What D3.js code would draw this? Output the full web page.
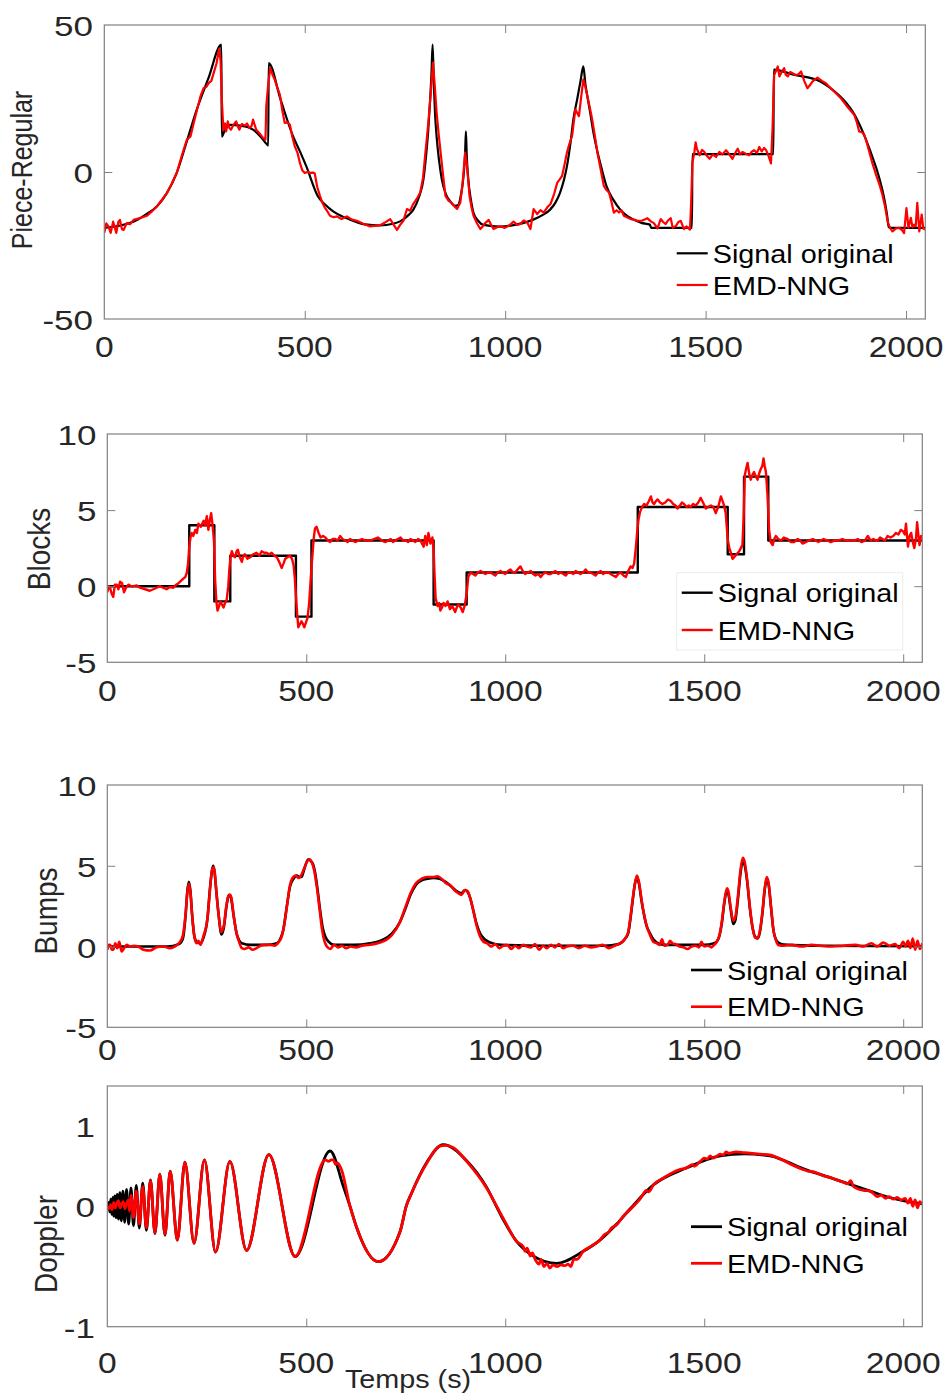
<!DOCTYPE html>
<html>
<head>
<meta charset="utf-8">
<script src="https://cdn.jsdelivr.net/npm/d3@7"></script>
<style>
  body { margin: 0; background: #fff; }
  svg { display: block; }
  text { font-family: "Liberation Sans", Arial, Helvetica, sans-serif; }
</style>
</head>
<body>
<svg id="chart" width="946" height="1396"></svg>
<script>
// ---------- data: sample index vs value ----------
const xTicks = [0, 500, 1000, 1500, 2000];
const xTickLabels = ["0", "500", "1000", "1500", "2000"];

const pieceTicks = [-50, 0, 50];
const pieceTickLabels = ["-50", "0", "50"];
const blocksTicks = [-5, 0, 5, 10];
const blocksTickLabels = ["-5", "0", "5", "10"];
const bumpsTicks = [-5, 0, 5, 10];
const bumpsTickLabels = ["-5", "0", "5", "10"];
const dopplerTicks = [-1.5, 0, 1];
const dopplerTickLabels = ["-1", "0", "1"];

const seriesNames = ["Signal original", "EMD-NNG"];

const pieceRegularOriginal = [[0,-19],[40,-18.2],[80,-16.4],[105,-14.3],[131,-11.7],[156,-7.2],[181,-0.2],[206,10.5],[230,21],[260,32],[292,43.3],[293,12],[300,14],[313,16],[340,15.8],[371,14.4],[390,12],[405,9.5],[409,9.0],[410,37],[440,24.5],[471,12.1],[488,7],[504,1.9],[533,-8.3],[550,-11],[571,-13.4],[613,-16.2],[650,-17.8],[688,-18.2],[720,-17.6],[738,-16.8],[760,-14.5],[771,-12.8],[785,-8.5],[796,-2.6],[803,6],[808,14],[813,25],[816,33],[819,43.3],[822,30],[825,20],[829,12],[835,4],[842,-2.6],[852,-7.5],[863,-10],[875,-11.5],[883,-11.2],[890,-7.5],[896,-1.5],[900,6],[902,13.8],[904,6],[908,-2.6],[914,-9],[921,-13.9],[932,-16.5],[946,-18],[987,-18.6],[1030,-17.8],[1070,-16.2],[1095,-14.5],[1112,-12.8],[1125,-10.5],[1137,-7],[1147,-2.5],[1154,1.9],[1163,10],[1170,17.8],[1180,25],[1188,31],[1195,35.9],[1200,30],[1206,25],[1212,20.2],[1220,13.5],[1229,7.6],[1240,1.5],[1253,-4.9],[1270,-9.5],[1287,-12.8],[1305,-15],[1320,-16.2],[1340,-17.3],[1361,-17.9],[1364,-19],[1466,-19],[1467,6.1],[1669,6.1],[1670,34.8],[1719,33.1],[1786,30.8],[1820,27.6],[1852,23.3],[1871,19.6],[1885,15.8],[1900,11],[1919,4],[1932,-1.5],[1944,-8],[1952,-14],[1957,-18.8],[1962,-19],[2048,-19]];

const pieceRegularEmd = [[0,-20.7],[5,-17.5],[10,-18.4],[16,-20.7],[22,-16.9],[30,-20.7],[35,-17],[39,-16.3],[44,-19.5],[48,-19.7],[56,-17.4],[64,-17.8],[73,-16.3],[89,-15.7],[106,-14.9],[118,-13.5],[131,-11.7],[143,-9.6],[156,-7.2],[168,-4],[181,-0.2],[193,5.4],[206,11],[215,12.1],[223,16.7],[232,21.5],[240,25.8],[248,28.6],[254,28.9],[261,30.3],[267,31],[273,33.7],[280,37],[286,41.8],[290,38],[293,25],[297,14.4],[301,16.5],[304,13.8],[308,17.2],[312,15],[316,14.4],[322,16],[329,17.2],[333,15.5],[337,14.4],[343,16.3],[350,15.8],[356,16.5],[362,15],[367,15.5],[371,17.8],[375,16],[379,14.4],[388,13],[396,11.6],[402,11],[404,22.3],[409,30],[414,35.3],[420,33],[425,31.4],[432,28.5],[438,26.3],[444,21],[450,16.7],[457,16.9],[463,16.1],[469,12],[475,8.8],[482,6.5],[488,3.1],[494,0.5],[500,-0.3],[509,0],[513,-0.3],[521,-0.2],[525,-0.5],[531,-5],[538,-8.1],[544,-10.5],[550,-12.1],[557,-13.5],[563,-14.9],[572,-15.4],[580,-15.1],[592,-16],[605,-15.1],[618,-16.2],[630,-16.6],[646,-17.6],[663,-18.5],[675,-18.3],[688,-18.1],[700,-17.2],[713,-16],[722,-18],[730,-19.7],[738,-18],[746,-16.6],[755,-12.6],[763,-13.2],[770,-11],[776,-9.8],[782,-8.5],[788,-7],[795,-2],[801,6.6],[805,12],[809,17.9],[815,28],[820,37.2],[824,30],[829,20.2],[834,13],[839,6.6],[845,-1],[851,-8.1],[859,-9.8],[865,-10.3],[872,-11.5],[880,-12.6],[888,-10.4],[893,-5],[896,-0.3],[900,6.6],[904,3.1],[908,-3],[911,-8.1],[916,-12],[921,-14.9],[930,-17.5],[938,-19.4],[944,-18.5],[950,-17.4],[959,-16.3],[965,-18],[971,-19.4],[980,-18.8],[988,-18.5],[999,-19],[1009,-18.3],[1021,-16.9],[1030,-18],[1038,-17.7],[1046,-16.5],[1055,-17.2],[1063,-19.4],[1071,-12.6],[1080,-14.3],[1088,-13],[1096,-13.8],[1105,-12],[1113,-10.9],[1122,-7.5],[1130,-3.6],[1136,-2.5],[1142,-1.3],[1148,2.5],[1154,6.6],[1160,9.5],[1167,12.3],[1175,21.3],[1180,20],[1184,19],[1190,26],[1195,31.5],[1200,29],[1205,25.8],[1211,22],[1217,17.9],[1224,12],[1230,6.6],[1238,1],[1246,-4.7],[1252,-6],[1259,-7],[1265,-10],[1271,-13.8],[1278,-13],[1284,-13.8],[1290,-13],[1296,-14.9],[1305,-15.5],[1313,-16],[1322,-16.2],[1330,-16.6],[1342,-16.5],[1355,-15.7],[1363,-16.8],[1371,-17.4],[1380,-19.2],[1388,-16],[1394,-17],[1400,-17.7],[1406,-16.5],[1413,-15.7],[1418,-19],[1426,-18.3],[1432,-17],[1438,-16.6],[1446,-19.4],[1452,-18.5],[1461,-19.6],[1464,-10],[1467,3],[1472,6.8],[1475,10.1],[1478,8],[1485,5.7],[1491,7.5],[1497,6.8],[1503,5.5],[1510,4.5],[1518,6],[1526,5.1],[1534,6.8],[1542,6],[1551,7.4],[1559,6],[1567,4.5],[1574,6.5],[1580,7.9],[1586,6],[1592,6.8],[1600,6.2],[1609,5.7],[1615,6.9],[1621,7.4],[1628,6.5],[1634,8.5],[1640,7],[1646,8.2],[1651,7.4],[1657,5.5],[1663,2.9],[1667,15],[1671,33],[1676,34.5],[1680,35.9],[1684,32.5],[1688,33.6],[1692,34.5],[1696,35.3],[1700,33],[1705,32.5],[1711,34],[1717,33.6],[1724,33],[1731,33.2],[1738,34.2],[1746,31],[1754,28.5],[1760,29.5],[1767,30.8],[1773,31.5],[1779,32.1],[1790,31],[1800,30.2],[1812,28.5],[1825,26.8],[1838,25],[1850,22.8],[1860,21.2],[1871,19.4],[1877,17],[1883,13.8],[1890,13.5],[1896,12.6],[1902,10],[1908,7],[1916,3],[1925,-0.9],[1933,-4],[1941,-7.7],[1948,-12],[1954,-16.8],[1960,-19],[1966,-20.2],[1975,-19.2],[1983,-19],[1990,-19.8],[1995,-20.8],[2001,-12.3],[2006,-19],[2012,-15.6],[2016,-18.8],[2020,-17.9],[2024,-18.5],[2028,-10.5],[2033,-20.2],[2039,-14.5],[2043,-19.2],[2048,-19.6]];

const blocksOriginal = [[0,0],[206,4],[269,-1],[309,2],[474,-2],[513,3],[820,-1.2],[903,0.9],[1333,5.2],[1559,2.1],[1600,7.2],[1661,3.0],[2048,3.0]];

const blocksEmd = [[0,-0.4],[4,0.0],[7,-0.1],[11,-0.5],[15,-0.7],[19,0.1],[24,0.1],[28,-0.2],[32,0.3],[37,0.2],[42,-0.4],[47,-0.1],[53,0.1],[60,0.0],[66,0.0],[74,0.05],[82,-0.1],[95,-0.2],[107,-0.3],[120,-0.15],[132,0.0],[140,-0.1],[149,-0.2],[157,-0.05],[166,-0.1],[173,0.1],[179,0.2],[185,0.35],[191,0.5],[196,0.6],[200,0.9],[203,1.5],[206,2.6],[209,3.2],[212,3.5],[216,3.3],[221,3.7],[225,3.5],[229,4.1],[235,3.9],[242,4.3],[246,4.0],[250,4.6],[254,3.7],[258,4.4],[261,4.8],[265,3.9],[268,3.0],[271,0.4],[274,-1.0],[277,-1.6],[281,-1.3],[284,-1.0],[288,-1.2],[292,-1.4],[296,-1.1],[300,-0.9],[304,0.0],[307,1.2],[310,2.0],[313,2.3],[317,2.0],[321,1.9],[325,2.3],[328,2.4],[333,1.9],[338,1.6],[342,2.0],[346,2.1],[352,1.8],[359,1.9],[367,2.1],[375,2.2],[382,2.0],[388,2.3],[394,2.2],[400,2.2],[407,2.1],[413,2.2],[420,2.0],[426,1.9],[432,1.6],[438,1.2],[443,1.5],[447,1.8],[453,1.9],[459,2.0],[464,1.8],[468,1.4],[471,0.6],[474,-0.6],[477,-1.8],[480,-2.7],[484,-2.5],[488,-2.3],[492,-2.5],[495,-2.7],[499,-2.4],[503,-2.1],[507,-1.2],[510,0.0],[513,1.2],[516,2.2],[519,3.2],[522,3.8],[526,3.9],[531,3.5],[536,3.2],[542,3.3],[548,3.2],[554,3.0],[560,2.9],[566,3.1],[573,3.1],[579,3.0],[585,3.3],[591,3.1],[598,3.0],[604,2.9],[610,3.1],[616,3.0],[623,2.9],[631,3.0],[640,3.1],[650,3.0],[661,3.0],[670,3.1],[680,3.2],[690,3.0],[699,2.9],[706,3.0],[712,3.1],[718,2.9],[724,3.0],[730,3.1],[737,3.2],[743,3.0],[749,3.0],[756,2.9],[762,3.1],[768,3.0],[774,2.9],[781,3.1],[787,3.0],[791,2.8],[795,2.6],[799,3.3],[803,2.7],[807,3.5],[812,2.8],[817,3.2],[820,2.4],[822,1.0],[825,-0.8],[830,-1.3],[834,-1.1],[837,-1.6],[841,-1.4],[845,-1.1],[850,-1.3],[855,-1.0],[861,-1.5],[867,-1.3],[874,-1.7],[878,-1.4],[882,-1.2],[888,-1.4],[893,-1.7],[898,-1.3],[903,-0.5],[907,0.6],[913,0.9],[919,0.8],[925,0.7],[931,0.9],[938,1.0],[944,0.9],[950,0.8],[957,0.9],[963,0.9],[969,0.8],[975,0.7],[981,0.9],[988,1.0],[994,0.9],[1000,0.8],[1007,1.0],[1013,1.1],[1019,0.9],[1025,0.9],[1031,1.1],[1038,1.3],[1044,1.0],[1050,0.8],[1057,0.9],[1064,1.0],[1070,0.8],[1076,0.7],[1083,0.8],[1089,0.6],[1095,0.8],[1101,0.9],[1108,0.8],[1114,0.8],[1120,0.9],[1126,1.0],[1133,0.8],[1139,0.9],[1146,0.8],[1152,0.7],[1158,0.9],[1164,0.9],[1171,0.8],[1177,1.0],[1183,0.9],[1189,0.8],[1196,0.9],[1202,1.1],[1208,0.9],[1214,0.9],[1221,0.8],[1227,0.7],[1233,0.9],[1240,1.0],[1246,0.8],[1252,0.9],[1259,0.9],[1265,0.8],[1271,0.7],[1278,0.6],[1284,0.8],[1290,0.9],[1297,0.7],[1303,0.6],[1309,1.0],[1315,1.3],[1320,1.2],[1324,1.5],[1328,2.5],[1332,3.7],[1335,4.4],[1339,4.9],[1344,5.2],[1349,5.4],[1355,5.3],[1361,5.6],[1366,5.9],[1370,5.5],[1374,5.4],[1379,5.6],[1383,5.7],[1389,5.5],[1395,5.4],[1402,5.5],[1409,5.7],[1416,5.6],[1422,5.4],[1428,5.3],[1433,5.1],[1439,5.3],[1444,5.5],[1449,5.4],[1456,5.2],[1461,5.3],[1466,5.2],[1472,5.4],[1479,5.3],[1485,5.5],[1491,5.8],[1497,5.5],[1504,5.1],[1510,5.2],[1517,5.3],[1523,5.2],[1529,4.8],[1535,5.2],[1542,5.9],[1546,5.6],[1550,5.3],[1554,4.8],[1559,3.1],[1563,2.5],[1567,2.2],[1571,1.8],[1575,1.9],[1581,2.1],[1588,2.3],[1592,2.5],[1596,2.7],[1599,4.5],[1602,7.3],[1606,7.8],[1609,8.1],[1613,7.4],[1617,7.0],[1621,7.3],[1625,7.5],[1630,7.2],[1634,7.0],[1638,7.4],[1642,7.7],[1646,7.9],[1649,8.4],[1652,7.9],[1655,7.5],[1659,6.0],[1663,3.7],[1667,2.9],[1672,2.7],[1676,3.1],[1680,3.3],[1686,3.1],[1693,3.0],[1700,3.2],[1710,3.1],[1718,2.9],[1726,2.9],[1735,3.1],[1741,3.0],[1747,2.8],[1755,2.9],[1763,3.0],[1773,3.1],[1780,3.0],[1787,2.9],[1793,3.0],[1800,3.1],[1810,3.0],[1818,2.9],[1827,3.0],[1837,3.0],[1847,3.1],[1857,3.0],[1867,3.0],[1877,3.0],[1886,3.1],[1895,2.9],[1904,3.0],[1911,3.3],[1918,3.0],[1925,3.1],[1931,3.0],[1936,3.0],[1942,3.2],[1948,3.1],[1954,3.0],[1961,3.3],[1968,3.2],[1975,3.3],[1982,3.5],[1988,3.4],[1994,3.7],[2000,3.6],[2004,3.4],[2007,4.1],[2010,3.2],[2012,2.6],[2016,3.3],[2020,3.5],[2024,2.9],[2028,2.5],[2032,3.1],[2035,4.2],[2038,3.4],[2041,2.7],[2045,3.3],[2048,3.3]];

const bumpsOriginal = [[0,0],[150,0],[180,0.15],[190,0.5],[197,2.0],[201,3.4],[205,4.0],[209,3.4],[213,2.0],[219,0.6],[226,0.25],[233,0.2],[241,0.5],[252,1.8],[258,3.6],[263,4.7],[266,5.0],[269,4.7],[274,3.4],[280,1.9],[287,0.75],[293,1.2],[299,2.4],[304,3.1],[307,3.2],[311,3.0],[317,2.0],[325,0.8],[331,0.4],[338,0.2],[360,0.1],[400,0.1],[426,0.2],[435,0.5],[442,1.0],[450,2.3],[459,3.7],[468,4.2],[476,4.4],[483,4.3],[488,4.3],[495,4.8],[505,5.4],[511,5.3],[517,5.1],[522,4.6],[528,3.6],[535,2.2],[541,1.2],[548,0.6],[556,0.3],[570,0.1],[620,0.1],[660,0.2],[690,0.4],[715,0.8],[735,1.5],[750,2.4],[762,3.2],[775,3.8],[790,4.1],[805,4.2],[820,4.25],[835,4.2],[850,4.0],[865,3.7],[880,3.4],[890,3.3],[899,3.5],[905,3.4],[912,3.0],[920,2.2],[928,1.4],[937,0.8],[948,0.45],[962,0.25],[990,0.1],[1100,0.05],[1250,0.05],[1285,0.15],[1300,0.45],[1309,0.83],[1315,1.8],[1320,2.8],[1326,3.9],[1331,4.3],[1336,3.9],[1342,2.9],[1347,2.2],[1355,1.3],[1364,0.8],[1372,0.45],[1381,0.25],[1400,0.1],[1500,0.1],[1525,0.2],[1536,0.5],[1544,1.4],[1550,2.6],[1556,3.4],[1560,3.3],[1566,2.4],[1573,1.4],[1578,1.6],[1585,3.0],[1591,4.5],[1597,5.3],[1602,5.0],[1608,4.0],[1615,2.3],[1622,1.1],[1628,0.6],[1634,0.5],[1640,0.9],[1646,2.0],[1652,3.5],[1657,4.2],[1662,3.8],[1668,2.4],[1674,1.0],[1680,0.45],[1686,0.25],[1700,0.12],[1800,0.05],[2048,0.02]];

const bumpsEmd = [[0,-0.2],[4,0.1],[7,0.1],[11,-0.2],[15,-0.2],[20,0.2],[25,-0.1],[30,0.3],[33,0.0],[36,-0.3],[42,-0.1],[49,0.1],[57,0.0],[66,0.05],[78,0.0],[91,-0.2],[107,-0.25],[124,-0.05],[141,0.0],[157,-0.1],[166,-0.05],[175,0.1],[183,0.3],[190,0.7],[197,2.1],[201,3.3],[205,3.9],[209,3.3],[213,2.0],[219,0.6],[224,0.2],[229,0.35],[234,0.1],[241,0.6],[252,1.8],[258,3.5],[263,4.7],[267,4.9],[270,4.6],[274,3.4],[280,1.9],[286,0.9],[289,1.0],[293,1.3],[299,2.5],[304,3.1],[308,3.2],[312,3.0],[317,2.0],[325,0.8],[331,0.3],[338,-0.1],[345,-0.15],[355,-0.05],[365,-0.2],[375,-0.1],[385,0.05],[395,0.1],[410,0.1],[420,0.05],[430,0.25],[438,0.6],[445,1.4],[452,2.6],[459,3.8],[467,4.3],[474,4.4],[480,4.25],[487,4.4],[494,4.8],[503,5.3],[508,5.4],[514,5.2],[520,4.7],[527,3.6],[534,2.2],[540,1.0],[546,0.3],[552,0.0],[560,-0.15],[570,0.1],[580,-0.05],[590,0.05],[600,-0.1],[612,0.0],[625,-0.05],[640,0.05],[655,0.1],[670,0.15],[685,0.25],[700,0.4],[715,0.7],[735,1.5],[750,2.5],[762,3.3],[775,3.9],[790,4.2],[805,4.3],[818,4.3],[830,4.35],[842,4.15],[852,3.9],[862,3.8],[872,3.5],[882,3.3],[890,3.2],[899,3.5],[906,3.4],[912,3.0],[920,2.2],[928,1.3],[937,0.6],[945,0.3],[955,0.2],[965,0.0],[975,0.15],[985,-0.1],[995,0.05],[1005,0.1],[1015,-0.15],[1025,0.05],[1035,-0.1],[1045,0.1],[1055,0.0],[1065,-0.05],[1075,0.15],[1085,-0.2],[1095,0.05],[1105,-0.1],[1115,0.1],[1125,-0.05],[1135,0.15],[1145,-0.1],[1155,0.0],[1170,0.05],[1185,-0.1],[1200,0.05],[1215,-0.05],[1230,0.0],[1245,0.1],[1260,-0.1],[1275,0.05],[1288,0.2],[1295,0.3],[1300,0.45],[1309,0.9],[1315,1.9],[1320,2.9],[1326,3.9],[1331,4.4],[1336,4.0],[1342,3.0],[1347,2.2],[1355,1.3],[1364,0.7],[1372,0.3],[1381,0.2],[1388,0.1],[1394,0.45],[1400,0.05],[1408,0.1],[1414,0.35],[1420,0.2],[1428,0.15],[1438,0.0],[1448,-0.05],[1458,-0.15],[1468,0.0],[1478,0.05],[1487,-0.05],[1493,0.3],[1500,0.0],[1510,0.05],[1518,-0.05],[1525,0.1],[1532,0.3],[1537,0.6],[1544,1.5],[1550,2.7],[1557,3.6],[1561,3.4],[1566,2.5],[1573,1.6],[1578,1.8],[1585,3.2],[1591,4.7],[1597,5.5],[1602,5.2],[1608,4.1],[1615,2.4],[1622,1.1],[1628,0.55],[1634,0.5],[1640,1.0],[1646,2.1],[1652,3.6],[1657,4.3],[1662,3.9],[1668,2.4],[1674,1.0],[1680,0.4],[1686,0.1],[1700,0.05],[1720,0.1],[1745,0.0],[1770,0.1],[1790,0.05],[1820,0.0],[1850,0.05],[1880,0.1],[1900,0.0],[1920,0.2],[1935,0.0],[1950,0.25],[1965,0.05],[1980,0.15],[1990,-0.1],[2000,0.3],[2006,0.0],[2012,0.35],[2018,-0.1],[2024,0.5],[2030,-0.2],[2036,0.35],[2042,-0.15],[2048,0.2]];

const dopplerOriginal = [[0,0],[1.4,-0.03],[3.7,0.05],[6.1,-0.07],[8.5,0.09],[11,-0.1],[13.6,0.11],[16.3,-0.12],[19.1,0.13],[22,-0.14],[25,0.15],[28.2,-0.16],[31.6,0.17],[35.3,-0.18],[39.3,0.19],[43.7,-0.2],[48.5,0.21],[53.7,-0.22],[59.5,0.23],[65.8,-0.24],[72.8,0.26],[80.5,-0.27],[89,0.29],[98.3,-0.3],[108.5,0.33],[119.7,-0.34],[132,0.4],[145,-0.36],[158,0.44],[176,-0.42],[195,0.55],[218,-0.46],[244,0.58],[272,-0.57],[308,0.56],[350,-0.55],[406,0.645],[472,-0.625],[560,0.69],[593,0.25],[610,0.0],[627,-0.27],[681,-0.69],[736,-0.31],[751,0.0],[765,0.17],[803,0.55],[844,0.77],[903,0.57],[953,0.24],[990,-0.12],[1029,-0.44],[1071,-0.62],[1129,-0.71],[1196,-0.56],[1238,-0.42],[1280,-0.22],[1314,-0.03],[1373,0.27],[1456,0.48],[1540,0.63],[1600,0.655],[1665,0.63],[1748,0.47],[1833,0.33],[1917,0.19],[1959,0.12],[2000,0.07],[2048,0.03]];

const dopplerEmd = [[0,0],[4,-0.03],[8,0.02],[12,-0.04],[16,0.05],[20,-0.02],[24,0.04],[28,0.07],[32,-0.02],[36,0.03],[40,0.06],[44,-0.03],[48,0.03],[53,0.08],[56,-0.06],[59.5,0.14],[65.8,-0.14],[72.8,0.19],[80.5,-0.22],[89,0.25],[98.3,-0.27],[108.5,0.32],[119.7,-0.33],[132,0.4],[145,-0.35],[158,0.44],[176,-0.42],[195,0.55],[218,-0.46],[244,0.58],[272,-0.57],[308,0.56],[350,-0.55],[406,0.645],[472,-0.625],[548,0.58],[556,0.56],[563,0.58],[568,0.58],[574,0.52],[578,0.54],[589,0.45],[610,0.0],[627,-0.27],[681,-0.69],[736,-0.31],[751,0.0],[765,0.17],[803,0.54],[835,0.75],[850,0.76],[870,0.73],[903,0.56],[953,0.23],[995,-0.15],[1029,-0.44],[1045,-0.5],[1050,-0.56],[1055,-0.52],[1063,-0.62],[1068,-0.58],[1075,-0.66],[1085,-0.72],[1090,-0.66],[1097,-0.75],[1105,-0.71],[1112,-0.77],[1120,-0.73],[1130,-0.75],[1140,-0.73],[1150,-0.74],[1158,-0.72],[1165,-0.75],[1172,-0.66],[1180,-0.66],[1196,-0.56],[1215,-0.5],[1238,-0.42],[1250,-0.35],[1260,-0.32],[1265,-0.28],[1280,-0.23],[1297,-0.12],[1314,-0.04],[1340,0.1],[1355,0.2],[1360,0.18],[1373,0.27],[1400,0.36],[1420,0.42],[1440,0.46],[1456,0.48],[1470,0.52],[1475,0.5],[1490,0.56],[1500,0.6],[1508,0.59],[1515,0.63],[1522,0.6],[1530,0.62],[1540,0.65],[1548,0.64],[1555,0.68],[1562,0.66],[1570,0.67],[1580,0.68],[1600,0.67],[1620,0.66],[1640,0.65],[1665,0.64],[1700,0.57],[1720,0.52],[1748,0.46],[1760,0.44],[1775,0.43],[1790,0.4],[1800,0.38],[1810,0.37],[1833,0.33],[1850,0.3],[1860,0.28],[1868,0.32],[1875,0.25],[1885,0.22],[1900,0.2],[1917,0.19],[1925,0.16],[1935,0.12],[1945,0.14],[1955,0.1],[1965,0.12],[1975,0.09],[1985,0.11],[1995,0.08],[2005,0.1],[2012,0.04],[2018,0.1],[2024,0.0],[2030,0.08],[2036,-0.02],[2042,0.06],[2048,0.02]];

// ---------- layout ----------
const xExtent = [0, 2048];
const panels = [
  { orig: pieceRegularOriginal, emd: pieceRegularEmd, origCurve: d3.curveMonotoneX, emdCurve: d3.curveLinear,
    box: { left: 104.3, top: 25, right: 925.3, bottom: 319 }, yDomain: [-50, 50],
    yTicks: pieceTicks, yLabels: pieceTickLabels, yTickMarks: true, yLabelRight: 93, xLabelBase: 357,
    name: "Piece-Regular", nameX: 22, nameY: 170, nameSize: 25,
    legend: { x: 676.7, y: 253.3, gap: 31.7, frame: false }, lw: 2.2 },
  { orig: blocksOriginal, emd: blocksEmd, origCurve: d3.curveStepAfter, emdCurve: d3.curveLinear,
    box: { left: 107.3, top: 434, right: 922.3, bottom: 662.3 }, yDomain: [-5, 10],
    yTicks: blocksTicks, yLabels: blocksTickLabels, yTickMarks: true, yLabelRight: 96.5, xLabelBase: 701,
    name: "Blocks", nameX: 38, nameY: 549, nameSize: 28,
    legend: { x: 681.7, y: 592.7, gap: 37.3, frame: true }, lw: 2.4 },
  { orig: bumpsOriginal, emd: bumpsEmd, origCurve: d3.curveMonotoneX, emdCurve: d3.curveMonotoneX,
    box: { left: 107.3, top: 785, right: 922.3, bottom: 1027.3 }, yDomain: [-5, 10],
    yTicks: bumpsTicks, yLabels: bumpsTickLabels, yTickMarks: true, yLabelRight: 96.5, xLabelBase: 1060,
    name: "Bumps", nameX: 45, nameY: 911, nameSize: 28,
    legend: { x: 691, y: 970, gap: 36.7, frame: false }, lw: 2.6 },
  { orig: dopplerOriginal, emd: dopplerEmd, origCurve: d3.curveMonotoneX, emdCurve: d3.curveMonotoneX,
    box: { left: 107.3, top: 1086, right: 922.3, bottom: 1326.7 }, yDomain: [-1.5, 1.5],
    yTicks: dopplerTicks, yLabels: dopplerTickLabels, yTickMarks: false, yLabelRight: 95, xLabelBase: 1373,
    name: "Doppler", nameX: 45, nameY: 1244, nameSize: 28,
    legend: { x: 691, y: 1226.7, gap: 36.6, frame: false }, lw: 2.8 }
];

const axisGray = "#808080";
const labelColor = "#262626";
const tickLen = 8;
const svg = d3.select("#chart");
const defs = svg.append("defs");

panels.forEach((p, i) => {
  const b = p.box;
  const x = d3.scaleLinear().domain(xExtent).range([b.left, b.right]);
  const y = d3.scaleLinear().domain(p.yDomain).range([b.bottom, b.top]);
  const g = svg.append("g").attr("class", "panel");

  defs.append("clipPath").attr("id", "plot-clip-" + i)
    .append("rect").attr("x", b.left).attr("y", b.top)
    .attr("width", b.right - b.left).attr("height", b.bottom - b.top);

  const plot = g.append("g").attr("clip-path", `url(#plot-clip-${i})`);
  const lineOrig = d3.line().x(d => x(d[0])).y(d => y(d[1])).curve(p.origCurve);
  const lineEmd = d3.line().x(d => x(d[0])).y(d => y(d[1])).curve(p.emdCurve);

  plot.append("path").datum(p.orig).attr("d", lineOrig)
    .attr("fill", "none").attr("stroke", "#000").attr("stroke-width", p.lw)
    .attr("stroke-linejoin", "round");
  plot.append("path").datum(p.emd).attr("d", lineEmd)
    .attr("fill", "none").attr("stroke", "#ff0000").attr("stroke-width", p.lw)
    .attr("stroke-linejoin", "round");

  // inward tick marks (x on top and bottom, y on left and right)
  const innerX = xTicks.filter(v => v > xExtent[0] && v < xExtent[1]);
  const innerY = p.yTickMarks ? p.yTicks.filter(v => v > p.yDomain[0] && v < p.yDomain[1]) : [];
  const axes = [
    [d3.axisBottom(x).tickValues(innerX), `translate(0,${b.bottom})`],
    [d3.axisTop(x).tickValues(innerX), `translate(0,${b.top})`],
    [d3.axisLeft(y).tickValues(innerY), `translate(${b.left},0)`],
    [d3.axisRight(y).tickValues(innerY), `translate(${b.right},0)`]
  ];
  axes.forEach(([ax, tr]) => {
    const a = g.append("g").attr("transform", tr)
      .call(ax.tickSizeInner(-tickLen).tickSizeOuter(0).tickFormat(""));
    a.select(".domain").remove();
    a.selectAll(".tick line").attr("stroke", axisGray).attr("stroke-width", 1);
  });

  g.append("rect").attr("x", b.left).attr("y", b.top)
    .attr("width", b.right - b.left).attr("height", b.bottom - b.top)
    .attr("fill", "none").attr("stroke", axisGray).attr("stroke-width", 1.2);

  // x tick labels
  g.selectAll("text.xt").data(xTicks).join("text").attr("class", "xt")
    .attr("transform", (d) => `translate(${x(d)},${p.xLabelBase}) scale(1.12,1)`)
    .attr("text-anchor", "middle").attr("font-size", 30).attr("fill", labelColor)
    .text((d, k) => xTickLabels[k]);

  // y tick labels
  g.selectAll("text.yt").data(p.yTicks).join("text").attr("class", "yt")
    .attr("transform", (d) => `translate(${p.yLabelRight},${y(d) + 11}) scale(1.25,1)`)
    .attr("text-anchor", "end").attr("font-size", 28).attr("fill", labelColor)
    .text((d, k) => p.yLabels[k]);

  // axis name
  g.append("text")
    .attr("transform", `translate(${p.nameX},${p.nameY}) rotate(-90) scale(1,1.15)`)
    .attr("text-anchor", "middle").attr("dy", "0.36em")
    .attr("font-size", p.nameSize).attr("fill", labelColor).text(p.name);

  // legend
  const L = p.legend;
  const lg = g.append("g");
  if (L.frame) {
    lg.append("rect").attr("x", L.x - 5).attr("y", L.y - 20)
      .attr("width", 226).attr("height", 77.3)
      .attr("fill", "#fff").attr("stroke", "#ebebeb").attr("stroke-width", 1);
  }
  ["#000", "#ff0000"].forEach((c, k) => {
    const ly = L.y + k * L.gap;
    lg.append("line").attr("x1", L.x).attr("x2", L.x + 31).attr("y1", ly).attr("y2", ly)
      .attr("stroke", c).attr("stroke-width", p.lw);
    lg.append("text").attr("transform", `translate(${L.x + 36},${ly + 9.5}) scale(1.13,1)`)
      .attr("font-size", 25.5).attr("fill", "#000").text(seriesNames[k]);
  });
});

// shared x-axis title
svg.append("text").attr("transform", "translate(408,1388) scale(1.15,1)")
  .attr("text-anchor", "middle").attr("font-size", 25).attr("fill", labelColor)
  .text("Temps (s)");
</script>
</body>
</html>
